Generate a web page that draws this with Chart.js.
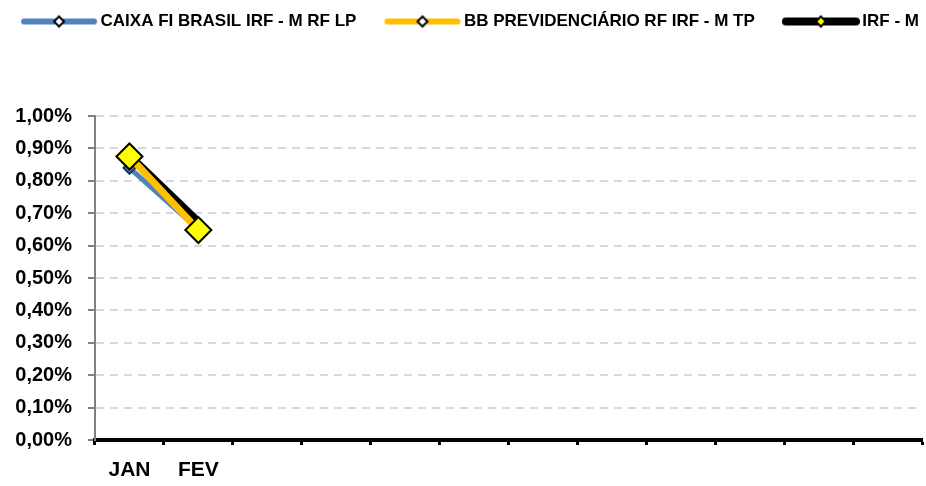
<!DOCTYPE html>
<html>
<head>
<meta charset="utf-8">
<script src="https://cdn.jsdelivr.net/npm/chart.js@4/dist/chart.umd.min.js"></script>
<style>
  html, body { margin: 0; padding: 0; background: #fff; }
  #wrap { width: 926px; height: 486px; }
</style>
</head>
<body>
<div id="wrap"><canvas id="chart" width="926" height="486"></canvas></div>
<script>
const months = ['JAN', 'FEV', '', '', '', '', '', '', '', '', '', ''];
const caixaValues = [0.84, 0.65];
const bbValues = [0.875, 0.648];
const irfmValues = [0.878, 0.673];
const seriesNames = ['CAIXA FI BRASIL IRF - M RF LP', 'BB PREVIDENCIÁRIO RF IRF - M TP', 'IRF - M'];

const FONT = "'Liberation Sans', Arial, sans-serif";

// legend swatch: thick line with a small diamond in the middle
function swatch(lineColor, lineWidth, markFill) {
  const c = document.createElement('canvas');
  c.width = 78; c.height = 16;
  const g = c.getContext('2d');
  g.strokeStyle = lineColor;
  g.lineWidth = lineWidth;
  g.lineCap = 'round';
  g.beginPath(); g.moveTo(4, 8); g.lineTo(74, 8); g.stroke();
  g.beginPath();
  g.moveTo(39, 3); g.lineTo(44, 8); g.lineTo(39, 13); g.lineTo(34, 8); g.closePath();
  g.fillStyle = markFill; g.fill();
  g.lineWidth = 2; g.strokeStyle = '#000'; g.stroke();
  return c;
}

const swatches = [
  swatch('#4f81bd', 6, '#fff'),
  swatch('#ffc000', 6, '#fff'),
  swatch('#000', 8, '#ffff00'),
];

const pct = v => v.toFixed(2).replace('.', ',') + '%';

new Chart(document.getElementById('chart'), {
  type: 'line',
  data: {
    labels: months,
    datasets: [
      {
        label: seriesNames[0],
        data: caixaValues,
        borderColor: '#4f81bd',
        borderWidth: 5,
        pointStyle: 'rectRot',
        pointRadius: 6,
        pointBackgroundColor: '#4f81bd',
        pointBorderColor: '#1f2f4f',
        pointBorderWidth: 2,
        order: 3,
      },
      {
        label: seriesNames[1],
        data: bbValues,
        borderColor: '#ffc000',
        borderWidth: 7,
        pointStyle: 'rectRot',
        pointRadius: 13,
        pointBackgroundColor: '#ffff00',
        pointBorderColor: '#000',
        pointBorderWidth: 2,
        order: 1,
      },
      {
        label: seriesNames[2],
        data: irfmValues,
        borderColor: '#000',
        borderWidth: 8,
        borderCapStyle: 'round',
        pointStyle: 'circle',
        pointRadius: 4,
        pointBackgroundColor: '#000',
        pointBorderColor: '#000',
        pointBorderWidth: 1,
        order: 2,
      },
    ],
  },
  options: {
    responsive: false,
    animation: false,
    layout: { autoPadding: false, padding: { top: -20, right: 4, left: 0, bottom: 0 } },
    plugins: {
      tooltip: { enabled: false },
      legend: {
        position: 'top',
        labels: {
          usePointStyle: true,
          pointStyleWidth: 66,
          padding: 33,
          color: '#000',
          font: { family: FONT, size: 17, weight: 'bold' },
          generateLabels: chart => chart.data.datasets.map((ds, i) => ({
            text: ds.label,
            pointStyle: swatches[i],
            datasetIndex: i,
            fontColor: '#000',
            lineWidth: 0,
          })),
        },
      },
    },
    scales: {
      x: {
        offset: true,
        afterFit: s => { s.height = 46; s.paddingLeft = 0; s.paddingRight = 0; },
        grid: {
          offset: true,
          drawOnChartArea: false,
          drawTicks: true,
          tickLength: 5,
          tickColor: '#000',
          tickWidth: 3,
        },
        border: { color: '#000', width: 4 },
        ticks: {
          autoSkip: false,
          maxRotation: 0,
          padding: 13,
          color: '#000',
          font: { family: FONT, size: 21, weight: 'bold' },
        },
      },
      y: {
        min: 0,
        max: 1,
        afterFit: s => { s.width = 95; },
        grid: {
          color: '#d9d9d9',
          lineWidth: 2,
          tickColor: '#808080',
          tickLength: 7,
          tickWidth: 2,
          tickBorderDash: [],
        },
        border: { color: '#808080', width: 2, dash: [8, 6] },
        ticks: {
          stepSize: 0.1,
          padding: 16,
          color: '#000',
          font: { family: FONT, size: 20, weight: 'bold' },
          callback: v => pct(v),
        },
      },
    },
  },
  plugins: [{
    // one legend row with wide gaps, and room for the plot below it
    id: 'legendLayout',
    beforeInit(chart) {
      const fit = chart.legend.fit;
      chart.legend.fit = function () {
        this.maxWidth = 1200;
        fit.call(this);
        this.height = 136;
      };
      const draw = chart.legend.draw;
      chart.legend.draw = function () {
        const l = this.left, r = this.right;
        this.left -= 100;
        this.right += 123;
        draw.call(this);
        this.left = l;
        this.right = r;
      };
    },
  }],
});
</script>
</body>
</html>
